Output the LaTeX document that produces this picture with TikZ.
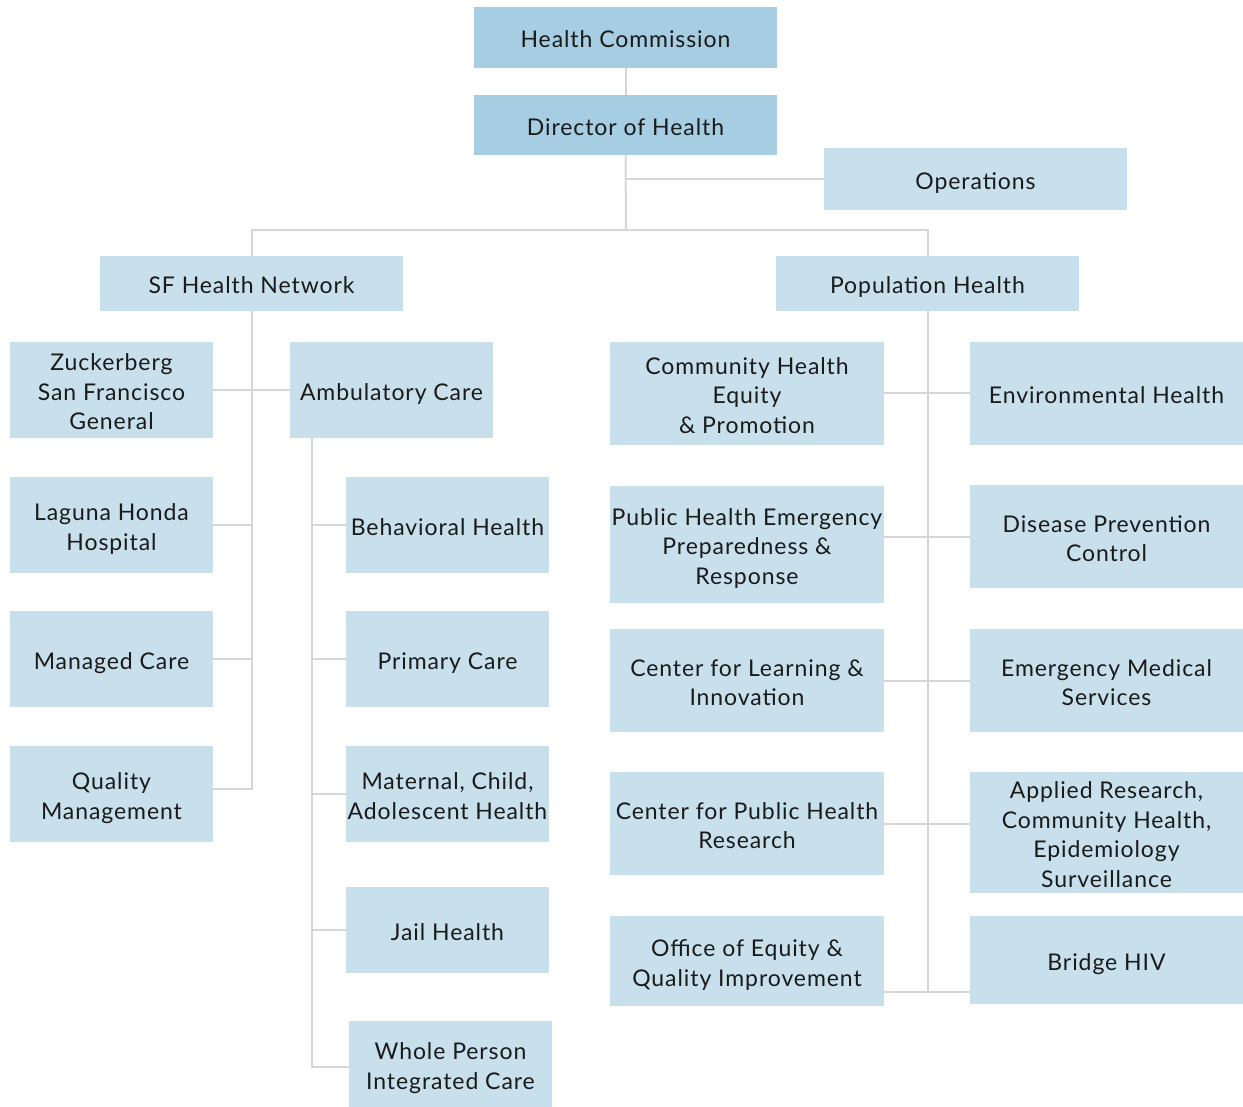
\documentclass[tikz,border=0pt]{standalone}
\usepackage{fontspec}
\setmainfont{Lato}[LetterSpace=4]
\definecolor{boxdark}{HTML}{A6CDE2}
\definecolor{boxlight}{HTML}{C8E0EC}
\definecolor{linegray}{HTML}{D6D6D6}
\definecolor{txt}{HTML}{1A1A1A}
\tikzset{
  base/.style={inner sep=0pt, align=center, text=txt, font=\fontsize{23}{29.5}\selectfont},
  darkbox/.style={base, fill=boxdark},
  lightbox/.style={base, fill=boxlight},
  conn/.style={draw=linegray, line width=2pt}
}
\newcommand{\bx}[7]{\node[#6, minimum width={#4-#2}, minimum height={#5-#3}] (#1) at ({(#2+#4)/2},{(#3+#5)/2}) {\raisebox{-4.5pt}[\height][\depth]{\begin{tabular}{@{}c@{}}#7\end{tabular}}};}
\begin{document}
\begin{tikzpicture}[x=1pt,y=-1pt]
\useasboundingbox (0,0) rectangle (1243,1107);
\coordinate (j1) at (626,230);
\coordinate (ambt) at (312,438);
\coordinate (oeR) at (884,992);
\coordinate (bhL) at (970,992);
\coordinate (qmR) at (213,789);
\coordinate (wpL) at (349,1067);
% boxes
\bx{hc}{474}{7}{777}{68}{darkbox}{Health Commission}
\bx{dh}{474}{95}{777}{155}{darkbox}{Director of Health}
\bx{ops}{824}{148}{1127}{210}{lightbox}{Operations}
\bx{sf}{100}{256}{403}{311}{lightbox}{SF Health Network}
\bx{ph}{776}{256}{1079}{311}{lightbox}{Population Health}
\bx{zsf}{10}{342}{213}{438}{lightbox}{Zuckerberg\\San Francisco\\General}
\bx{amb}{290}{342}{493}{438}{lightbox}{Ambulatory Care}
\bx{lh}{10}{477}{213}{573}{lightbox}{Laguna Honda\\Hospital}
\bx{mc}{10}{611}{213}{707}{lightbox}{Managed Care}
\bx{qm}{10}{746}{213}{842}{lightbox}{Quality\\Management}
\bx{bh}{346}{477}{549}{573}{lightbox}{Behavioral Health}
\bx{pc}{346}{611}{549}{707}{lightbox}{Primary Care}
\bx{mch}{346}{746}{549}{842}{lightbox}{Maternal, Child,\\Adolescent Health}
\bx{jh}{346}{887}{549}{973}{lightbox}{Jail Health}
\bx{wp}{349}{1021}{552}{1107}{lightbox}{Whole Person\\Integrated Care}
\bx{che}{610}{342}{884}{445}{lightbox}{Community Health\\Equity\\\& Promotion}
\bx{env}{970}{342}{1243}{445}{lightbox}{Environmental Health}
\bx{phe}{610}{486}{884}{603}{lightbox}{Public Health Emergency\\Preparedness \&\\Response}
\bx{dpc}{970}{485}{1243}{588}{lightbox}{Disease Prevention\\Control}
\bx{cli}{610}{629}{884}{732}{lightbox}{Center for Learning \&\\Innovation}
\bx{ems}{970}{629}{1243}{732}{lightbox}{Emergency Medical\\Services}
\bx{cphr}{610}{772}{884}{875}{lightbox}{Center for Public Health\\Research}
\bx{arc}{970}{772}{1243}{893}{lightbox}{Applied Research,\\Community Health,\\Epidemiology\\Surveillance}
\bx{oe}{610}{916}{884}{1006}{lightbox}{Office of Equity \&\\Quality Improvement}
\bx{bhiv}{970}{916}{1243}{1004}{lightbox}{Bridge HIV}
% connectors
\draw[conn] (hc.south) -- (dh.north);
\draw[conn] (dh.south) -- (j1);
\draw[conn] (dh.south |- ops.west) -- (ops.west);
\draw[conn] (sf.north) |- (j1) -| (ph.north);
\draw[conn] (sf.south) |- (qmR);
\draw[conn] (zsf.east) -- (amb.west);
\draw[conn] (lh.east) -- (lh.east -| sf.south);
\draw[conn] (mc.east) -- (mc.east -| sf.south);
\draw[conn] (ambt) |- (wpL);
\draw[conn] (bh.west -| ambt) -- (bh.west);
\draw[conn] (pc.west -| ambt) -- (pc.west);
\draw[conn] (mch.west -| ambt) -- (mch.west);
\draw[conn] (jh.west -| ambt) -- (jh.west);
\draw[conn] (ph.south) -- (ph.south |- oeR);
\draw[conn] (che.east) -- (env.west);
\draw[conn] (dpc.west -| phe.east) -- (dpc.west);
\draw[conn] (cli.east) -- (ems.west);
\draw[conn] (cphr.east) -- (cphr.east -| arc.west);
\draw[conn] (oeR) -- (bhL);
\end{tikzpicture}
\end{document}
